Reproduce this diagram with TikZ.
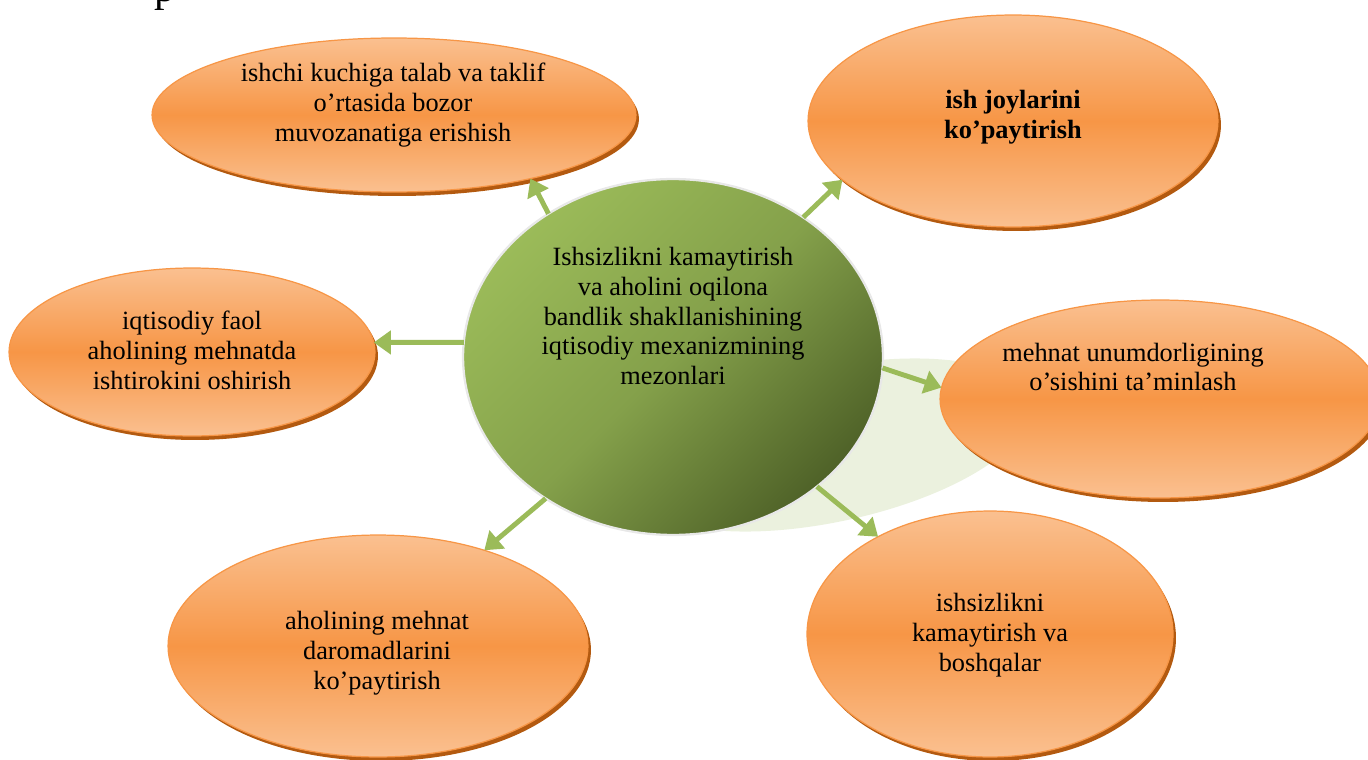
\documentclass[tikz,border=0pt]{standalone}
\usepackage{fontspec}
\setmainfont{Liberation Serif}
\usetikzlibrary{shapes.geometric,arrows.meta,shadows}

\definecolor{orMid}{HTML}{F79646}
\definecolor{orLight}{HTML}{FAC090}
\definecolor{orDark}{HTML}{B35A10}
\definecolor{grLight}{HTML}{9BBB59}
\definecolor{grDark}{HTML}{4F6228}
\definecolor{grPale}{HTML}{EBF1DE}

\begin{document}
\begin{tikzpicture}[x=0.02cm,y=-0.02cm,
  goal/.style={ellipse, inner sep=0pt, outer sep=0pt, draw=orMid, line width=0.7pt,
    top color=orLight, bottom color=orLight, middle color=orMid,
    general shadow={fill=orDark, shadow xshift=0.06cm, shadow yshift=-0.08cm}},
  hub/.style={ellipse, inner sep=0pt, outer sep=0pt, draw=black!9, line width=1.3pt,
    top color=grLight, bottom color=grDark, middle color=grLight!70!grDark,
    shading angle=45},
  txt/.style={align=center, inner sep=0pt, font=\fontsize{15}{17}\selectfont},
  link/.style={draw=grLight, line width=2.8pt, -{Triangle[length=0.34cm,width=0.46cm]}}
]
\useasboundingbox (0,0) rectangle (1368,760);

% fragment of a heading above the picture
\node[anchor=base west, inner sep=0pt, font=\fontsize{24}{28}\selectfont] (frag) at (154,2) {p};

% pale green halo under the hub
\fill[grPale, shift={(830,445)}, rotate=12] (0,0) ellipse [x radius=4.1cm, y radius=1.54cm];

% goals around the hub
\node[goal, minimum width=9.68cm, minimum height=3.08cm] (e1) at (394,115) {};
\node[goal, minimum width=8.2cm,  minimum height=4.24cm] (e2) at (1013,121) {};
\node[goal, minimum width=7.32cm, minimum height=3.36cm] (e3) at (192,352) {};
\node[goal, minimum width=8.8cm,  minimum height=3.96cm] (e4) at (1160,399) {};
\node[goal, minimum width=7.32cm, minimum height=4.92cm] (e5) at (990,634) {};
\node[goal, minimum width=8.4cm,  minimum height=4.44cm] (e6) at (378,646) {};

% central hub
\node[hub, minimum width=8.4cm, minimum height=7.12cm] (c) at (673,357) {};

% texts
\node[txt] (t0) at (673,316) {Ishsizlikni kamaytirish\\va aholini oqilona\\bandlik shakllanishining\\iqtisodiy mexanizmining\\mezonlari};
\node[txt] (t1) at (393,105) {ishchi kuchiga talab va taklif\\o’rtasida bozor\\muvozanatiga erishish};
\node[txt, font=\fontsize{15}{17}\selectfont\bfseries] (t2) at (1013,117) {ish joylarini\\ko’paytirish};
\node[txt] (t3) at (192,350) {iqtisodiy faol\\aholining mehnatda\\ishtirokini oshirish};
\node[txt] (t4) at (1133,367) {mehnat unumdorligining\\o’sishini ta’minlash};
\node[txt] (t5) at (990,635) {ishsizlikni\\kamaytirish va\\boshqalar};
\node[txt] (t6) at (377,653) {aholining mehnat\\daromadlarini\\ko’paytirish};

% arrows from the hub
\draw[link] (c.131) -- (e1.-25);
\draw[link] (c.47) -- (e2.199);
\draw[link] (c.176) -- (e3.3);
\draw[link] (c.-3) -- (e4.177);
\draw[link] (c.-42) -- (e5.139);
\draw[link] (c.228) -- (e6.42);
\end{tikzpicture}
\end{document}
